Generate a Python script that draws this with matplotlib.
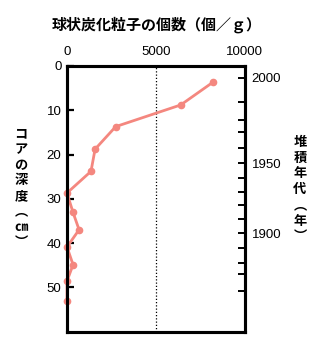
import matplotlib
matplotlib.use("Agg")
import matplotlib.pyplot as plt

# depth profile of spherical carbonaceous particles
counts = [8200, 6400, 2740, 1580, 1350, 0, 340, 680, 0, 340, 0, 0]
depths = [3.7, 8.8, 13.7, 18.8, 23.8, 28.7, 33.1, 37.0, 40.9, 44.9, 48.6, 53.0]

x_ticks = [0, 5000, 10000]
depth_ticks = [0, 10, 20, 30, 40, 50]

# age model: year -> depth (cm) on the right axis
years = [2000, 1990, 1980, 1970, 1960, 1950, 1940, 1930, 1920, 1910,
         1900, 1890, 1880, 1870, 1860]
year_depths = [2.6, 8.1, 12.2, 14.9, 18.6, 22.0, 25.4, 28.4, 31.4, 34.6,
               37.8, 41.2, 44.5, 47.1, 50.9]
labeled_years = [2000, 1950, 1900]

num_font = ["Liberation Sans", "Noto Sans CJK JP"]
jp_font = ["Noto Sans CJK JP", "DejaVu Sans"]
line_color = "#F4877F"
spine_w = 2.2

fig = plt.figure(figsize=(3.24, 3.48), dpi=100)
ax = fig.add_axes([67 / 324, 1 - 331.5 / 348, (244.7 - 67) / 324, (331.5 - 66) / 348])

ax.plot(counts, depths, color=line_color, lw=2, marker="o", markersize=4.5,
        clip_on=False, zorder=3)
ax.axvline(5000, color="black", lw=0.9, linestyle=(0, (1, 1.6)), zorder=1)

ax.set_xlim(0, 10000)
ax.set_ylim(60, 0)
ax.set_xticks(x_ticks)
ax.set_yticks(depth_ticks)
ax.xaxis.tick_top()
ax.tick_params(axis="x", which="both", length=0, pad=6, labelsize=9.5)
ax.tick_params(axis="y", direction="in", length=5, width=1.6, pad=4, labelsize=9.5)
for lab in ax.get_xticklabels() + ax.get_yticklabels():
    lab.set_family(num_font)
for s in ax.spines.values():
    s.set_linewidth(spine_w)

ax2 = ax.twinx()
ax2.set_ylim(60, 0)
ax2.set_yticks(year_depths)
ax2.set_yticklabels([str(y) if y in labeled_years else "" for y in years])
ax2.tick_params(axis="y", direction="in", length=5, width=1.4, pad=5, labelsize=9.5)
for lab in ax2.get_yticklabels():
    lab.set_family(num_font)
for s in ax2.spines.values():
    s.set_linewidth(spine_w)

fig.text(157 / 324, 1 - 25 / 348, "球状炭化粒子の個数（個／ｇ）", ha="center", va="center",
         fontsize=10.8, fontweight="bold", family=jp_font)
fig.text(21 / 324, 1 - 188 / 348, "\n".join("コアの深度︵㎝︶"), ha="center", va="center",
         fontsize=9.5, fontweight="bold", family=jp_font, linespacing=1.14)
fig.text(300 / 324, 1 - 189 / 348, "\n".join("堆積年代︵年︶"), ha="center", va="center",
         fontsize=9.5, fontweight="bold", family=jp_font, linespacing=1.16)

fig.savefig("out.png", dpi=100)
